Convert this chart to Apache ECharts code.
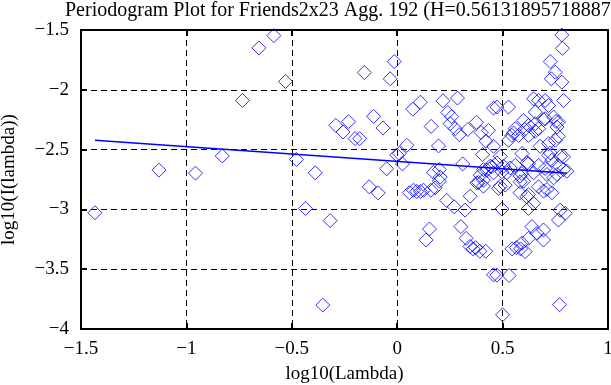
<!DOCTYPE html>
<html>
<head>
<meta charset="utf-8">
<script src="https://cdn.jsdelivr.net/npm/echarts@6/dist/echarts.min.js"></script>
<style>html,body{margin:0;padding:0;background:#fff;}#c{width:611px;height:385px;}</style>
</head>
<body>
<div id="c"></div>
<script>
const titleText = "Periodogram Plot for Friends2x23 Agg. 192 (H=0.561318957188873)";
const xName = "log10(Lambda)";
const yName = "log10(I(lambda))";
const xTicks = [-1.5, -1, -0.5, 0, 0.5, 1];
const yTicks = [-4, -3.5, -3, -2.5, -2, -1.5];

const pointsX = [
-1.434,-1.130,-0.957,-0.830,-0.734,-0.656,-0.585,-0.530,-0.478,-0.435,
-0.389,-0.353,-0.318,-0.291,-0.257,-0.231,-0.200,-0.178,-0.156,-0.133,
-0.112,-0.090,-0.067,-0.050,-0.033,-0.014,-0.002,0.010,0.025,0.046,
0.058,0.074,0.077,0.093,0.110,0.110,0.125,0.137,0.153,0.160,
0.161,0.172,0.180,0.196,0.200,0.200,0.204,0.217,0.235,0.240,
0.251,0.258,0.270,0.275,0.286,0.295,0.302,0.311,0.322,0.327,
0.335,0.345,0.346,0.360,0.372,0.376,0.378,0.386,0.392,0.394,
0.398,0.405,0.409,0.409,0.409,0.420,0.421,0.425,0.433,0.441,
0.449,0.457,0.457,0.457,0.457,0.473,0.473,0.473,0.481,0.489,
0.489,0.497,0.497,0.500,0.504,0.512,0.520,0.528,0.528,0.531,
0.536,0.544,0.545,0.552,0.560,0.560,0.565,0.576,0.583,0.583,
0.583,0.585,0.591,0.592,0.592,0.599,0.599,0.605,0.607,0.615,
0.615,0.623,0.623,0.623,0.623,0.623,0.623,0.639,0.647,0.647,
0.647,0.655,0.655,0.655,0.663,0.670,0.671,0.671,0.671,0.678,
0.694,0.694,0.694,0.694,0.702,0.702,0.702,0.710,0.710,0.718,
0.718,0.718,0.726,0.726,0.731,0.734,0.734,0.742,0.742,0.750,
0.750,0.753,0.758,0.758,0.765,0.765,0.765,0.765,0.770,0.773,
0.774,0.781,0.781,0.784,0.789,0.789,0.789,0.797,0.805
];
const pointsY = [
-3.028,-2.672,-2.697,-2.553,-2.089,-1.650,-1.547,-1.931,-2.583,-2.992,
-2.694,-3.800,-3.094,-2.297,-2.353,-2.267,-2.408,-2.408,-1.856,-2.811,
-2.222,-2.862,-2.319,-2.660,-1.908,-1.764,-2.545,-2.533,-2.620,-2.464,
-2.860,-2.162,-2.840,-2.850,-2.104,-2.850,-2.840,-3.256,-3.164,-2.840,
-2.306,-2.690,-2.820,-2.469,-2.667,-2.764,-2.730,-2.092,-2.925,-2.190,
-2.283,-2.225,-2.978,-2.325,-2.069,-2.375,-3.144,-2.620,-3.006,-3.242,
-2.332,-3.310,-2.890,-3.330,-3.320,-2.272,-2.778,-2.775,-3.350,-2.714,
-2.357,-2.542,-2.756,-2.806,-2.667,-3.350,-2.430,-2.672,-2.339,-2.639,
-2.644,-2.153,-2.472,-3.547,-2.694,-2.144,-2.611,-3.550,-2.825,-2.556,
-2.806,-2.686,-2.997,-3.881,-2.639,-2.797,-2.694,-2.144,-2.422,-3.553,
-2.653,-2.381,-3.330,-2.361,-2.325,-2.631,-3.320,-2.381,-2.722,-2.769,
-2.861,-3.330,-2.700,-2.533,-3.283,-2.256,-2.764,-2.333,-3.353,-2.611,
-2.894,-2.297,-2.381,-2.617,-2.875,-2.992,-3.242,-3.144,-2.075,-2.694,
-2.950,-2.186,-2.283,-2.347,-3.200,-2.811,-2.089,-2.325,-2.631,-2.472,
-2.847,-3.172,-3.256,-2.250,-2.089,-2.242,-2.658,-2.708,-2.833,-2.131,
-2.450,-2.547,-1.764,-2.528,-1.908,-2.589,-2.861,-2.228,-2.736,-1.853,
-2.422,-2.264,-2.311,-2.708,-2.269,-2.389,-2.631,-3.089,-3.797,-3.006,
-2.556,-1.542,-1.936,-1.653,-2.089,-2.561,-2.667,-3.033,-2.681
];
const fitX = [-1.434, 0.805];
const fitY = [-2.422, -2.697];

const FONT = '"Liberation Serif", "DejaVu Serif", serif';
const fmt = v => String(v).replace('-', '\u2212');

const scatterData = pointsX.map((x, i) => [x, pointsY[i]]);
const lineData = fitX.map((x, i) => [x, fitY[i]]);

const gridDash = { show: true, lineStyle: { color: '#000', type: [6, 4], width: 1 } };
const chart = echarts.init(document.getElementById('c'), null, { renderer: 'canvas' });
chart.setOption({
  animation: false,
  backgroundColor: '#fff',
  title: {
    text: titleText, left: 60, top: -4,
    textStyle: { fontFamily: FONT, fontSize: 20, fontWeight: 'normal', color: '#000' }
  },
  grid: { left: 81, right: 3, top: 30, bottom: 56, show: false, containLabel: false, outerBoundsMode: 'none' },
  xAxis: [{
    type: 'value', min: -1.5, max: 1, interval: 0.5, position: 'bottom',
    name: xName, nameLocation: 'middle', nameGap: 36,
    nameTextStyle: { fontFamily: FONT, fontSize: 19, color: '#000' },
    axisLine: { show: true, onZero: false, lineStyle: { color: '#000', width: 2 } },
    axisTick: { show: true, inside: true, length: 6, lineStyle: { color: '#000', width: 2 } },
    axisLabel: { formatter: fmt, fontFamily: FONT, fontSize: 19, color: '#000', margin: 11 },
    splitLine: gridDash
  }, {
    type: 'value', min: -1.5, max: 1, interval: 0.5, position: 'top',
    axisLine: { show: true, onZero: false, lineStyle: { color: '#000', width: 2 } },
    axisTick: { show: true, inside: true, length: 6, lineStyle: { color: '#000', width: 2 } },
    axisLabel: { show: false }, splitLine: { show: false }
  }],
  yAxis: [{
    type: 'value', min: -4, max: -1.5, interval: 0.5, position: 'left',
    name: yName, nameLocation: 'middle', nameGap: 62, nameRotate: 90,
    nameTextStyle: { fontFamily: FONT, fontSize: 19, color: '#000' },
    axisLine: { show: true, onZero: false, lineStyle: { color: '#000', width: 2 } },
    axisTick: { show: true, inside: true, length: 6, lineStyle: { color: '#000', width: 2 } },
    axisLabel: { formatter: fmt, fontFamily: FONT, fontSize: 19, color: '#000', margin: 12 },
    splitLine: gridDash
  }, {
    type: 'value', min: -4, max: -1.5, interval: 0.5, position: 'right',
    axisLine: { show: true, onZero: false, lineStyle: { color: '#000', width: 2 } },
    axisTick: { show: true, inside: true, length: 6, lineStyle: { color: '#000', width: 2 } },
    axisLabel: { show: false }, splitLine: { show: false }
  }],
  series: [{
    type: 'scatter', data: scatterData, symbol: 'diamond', symbolSize: 14,
    itemStyle: { color: 'none', borderColor: '#0000ff', borderWidth: 1 },
    silent: true
  }, {
    type: 'line', data: lineData, symbol: 'none',
    lineStyle: { color: '#0000ff', width: 1.5 }, silent: true
  }]
});
</script>
</body>
</html>
